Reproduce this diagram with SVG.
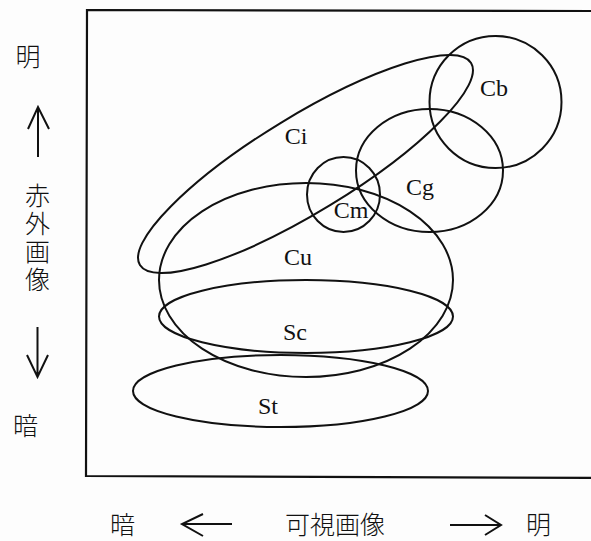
<svg xmlns="http://www.w3.org/2000/svg" width="591" height="541" viewBox="0 0 591 541">
<style>
.s{fill:none;stroke:#111;stroke-width:2}
.f{fill:none;stroke:#111;stroke-width:2.2}
.lb{font-family:"Liberation Serif","Times New Roman",serif;font-size:24px;fill:#111;text-anchor:middle;dominant-baseline:central}
.jp{font-family:"Noto Sans CJK JP","Noto Sans CJK SC",sans-serif;font-size:25px;fill:#111;text-anchor:middle;font-weight:300}
</style>
<rect width="591" height="541" fill="#fdfdfd"/>
<path class="f" d="M600,11 L87,10 L86,476 L600,478"/>
<g id="St"><ellipse class="s" cx="280.5" cy="391" rx="147.5" ry="36"/><text class="lb" x="268" y="406">St</text></g>
<g id="Sc"><ellipse class="s" cx="306" cy="316.5" rx="147" ry="36.5"/><text class="lb" x="295" y="332">Sc</text></g>
<g id="Cu"><ellipse class="s" cx="306" cy="280" rx="147" ry="97"/><text class="lb" x="298" y="257">Cu</text></g>
<g id="Ci"><ellipse class="s" cx="305.5" cy="164" rx="194" ry="48" transform="rotate(-31.4 305.5 164)"/><text class="lb" x="296" y="136">Ci</text></g>
<g id="Cm"><ellipse class="s" cx="343.5" cy="194.5" rx="36.5" ry="37.5"/><text class="lb" x="351" y="210">Cm</text></g>
<g id="Cg"><ellipse class="s" cx="429.5" cy="170.5" rx="73.5" ry="61.5"/><text class="lb" x="420" y="187">Cg</text></g>
<g id="Cb"><circle class="s" cx="495.5" cy="102" r="66"/><text class="lb" x="494" y="88">Cb</text></g>
<g id="yaxis">
<text class="jp" x="28" y="66">明</text>
<path class="s" d="M38,157 L38,107 M28,129 L38,107 L49,129"/>
<text class="jp" x="37.5" y="183" writing-mode="vertical-rl" style="text-anchor:start;letter-spacing:3px">赤外画像</text>
<path class="s" d="M37.5,327 L37.5,377 M27,355 L37.5,377 L48,355"/>
<text class="jp" x="25.5" y="435">暗</text>
</g>
<g id="xaxis">
<text class="jp" x="122.5" y="534">暗</text>
<path class="s" d="M232,524 L182,524 M203,514 L182,524 L203,536"/>
<text class="jp" x="335" y="534">可視画像</text>
<path class="s" d="M450,525 L501,525 M485,515 L501,525 L485,535"/>
<text class="jp" x="538.5" y="534">明</text>
</g>
</svg>
